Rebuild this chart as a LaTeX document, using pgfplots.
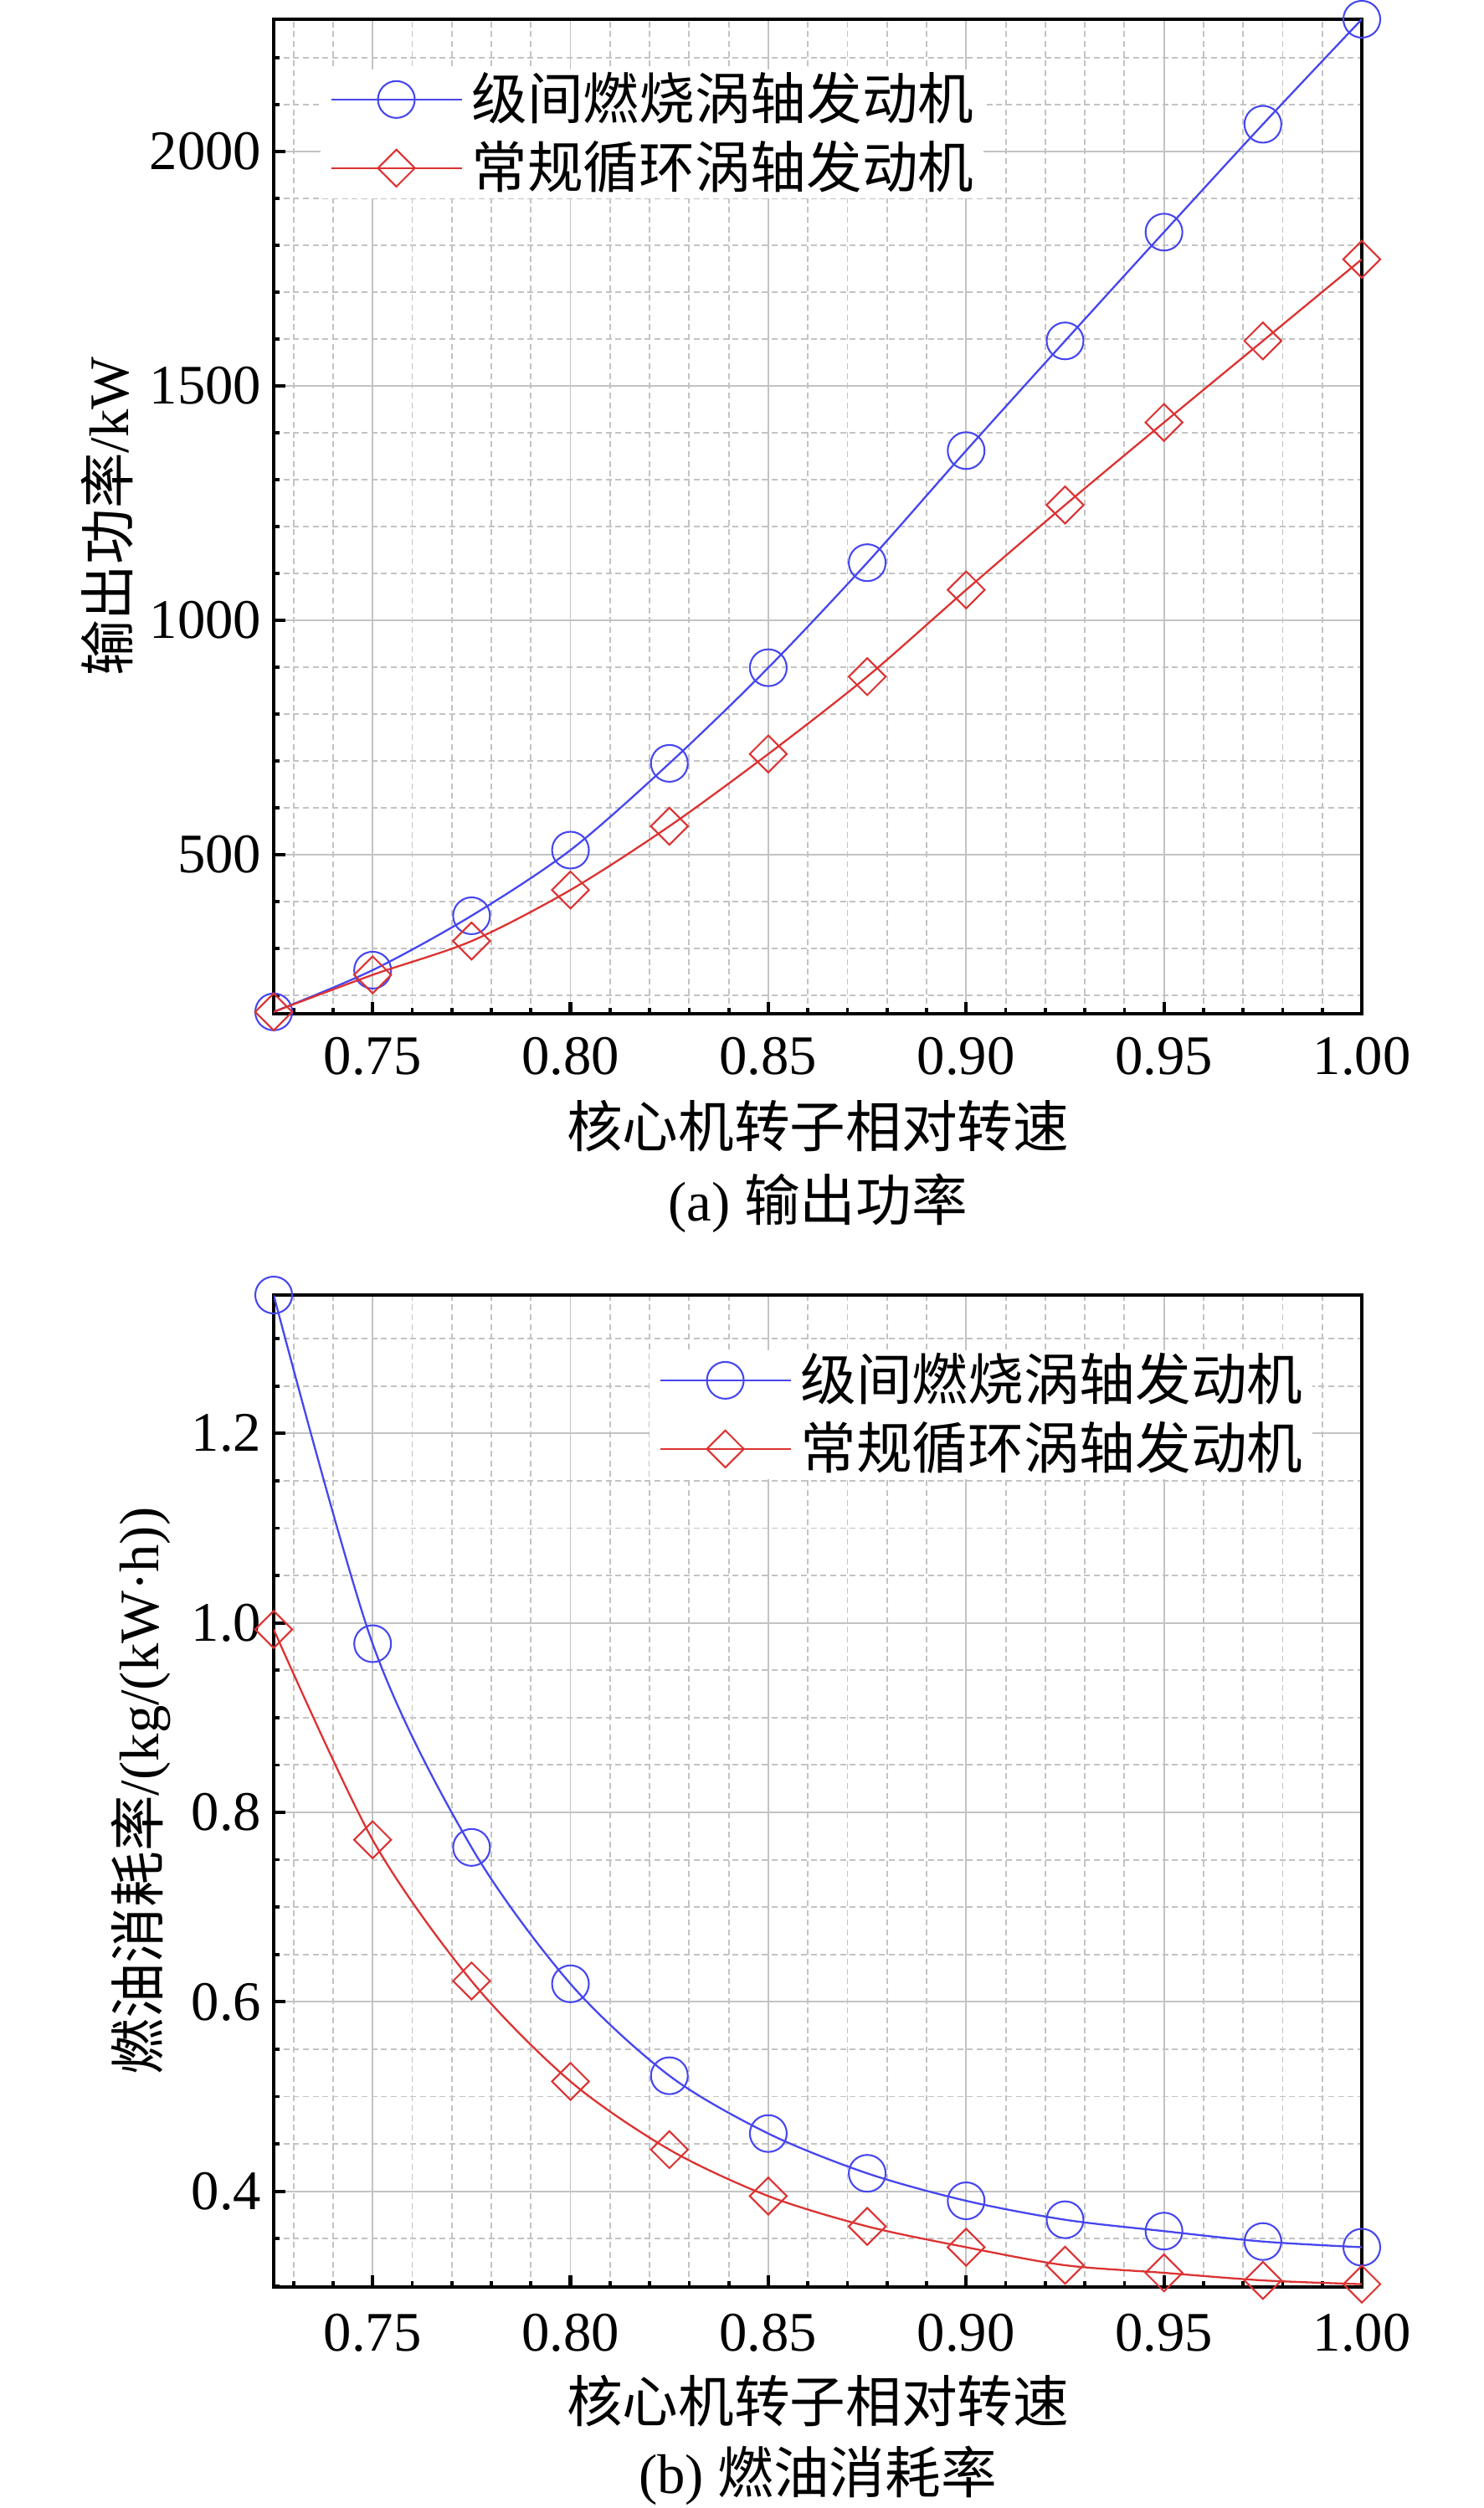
\documentclass[border=0pt]{standalone}
\usepackage{fontspec}
\setmainfont{Liberation Serif}
\newfontfamily\cjk{Noto Sans CJK SC}
\usepackage{pgfplots}
\pgfplotsset{compat=1.18}
\definecolor{blueL}{RGB}{70,70,240}
\definecolor{redL}{RGB}{220,50,50}
\definecolor{gridC}{RGB}{195,195,195}
\pgfplotsset{
  common/.style={
    scale only axis,
    width=312pt,
    xmin=0.725, xmax=1.0,
    xtick={0.75,0.80,0.85,0.90,0.95,1.00},
    minor xtick={0.73,0.74,0.76,0.77,0.78,0.79,0.81,0.82,0.83,0.84,0.86,0.87,0.88,0.89,0.91,0.92,0.93,0.94,0.96,0.97,0.98,0.99},
    xticklabel style={/pgf/number format/fixed, /pgf/number format/fixed zerofill, /pgf/number format/precision=2},
    /pgf/number format/assume math mode=true,
    /pgf/number format/set thousands separator={},
    tick label style={font=\fontsize{16}{19.2}\selectfont},
    label style={font=\fontsize{16}{19.2}\selectfont},
    tick align=inside,
    xtick pos=bottom, ytick pos=left,
    major tick length=3.4pt, minor tick length=1.7pt,
    major tick style={black, line width=1pt},
    minor tick style={black, line width=0.9pt},
    axis line style={line width=1pt},
    grid=both,
    major grid style={solid, gridC, line width=0.45pt},
    minor grid style={gridC, line width=0.45pt, dash pattern=on 1.7pt off 1.1pt},
    clip mode=individual,
    legend image code/.code={\draw[mark repeat=2,mark phase=2,##1] plot coordinates {(0pt,0pt)(18.7pt,0pt)(37.4pt,0pt)};},
    legend cell align=left,
    legend style={draw=none, fill=white, font=\fontsize{16}{19.2}\selectfont,
      inner xsep=2.8pt, inner ysep=1pt, row sep=4.4pt, column sep=2.6pt,
      nodes={inner sep=0pt, text height=13.26pt, text depth=2.02pt}},
  },
  bl/.style={blueL, line width=0.55pt, smooth, mark=o, mark size=5.28pt, mark options={solid, line width=0.5pt}},
  rd/.style={redL, line width=0.55pt, smooth, mark=square, mark size=3.75pt, mark options={solid, rotate=45, line width=0.5pt}},
}
\begin{document}
\begin{tikzpicture}
\path[use as bounding box] (0,0) rectangle (425.28pt,-719.04pt);
\begin{axis}[common, name=top,
  at={(78.48pt,-5.52pt)}, anchor=north west,
  height=285.12pt,
  ymin=161, ymax=2282,
  ytick={500,1000,1500,2000},
  minor ytick={200,300,400,600,700,800,900,1100,1200,1300,1400,1600,1700,1800,1900,2100,2200},
  xticklabel style={anchor=center, yshift=-12.24pt},
  xlabel={\cjk 核心机转子相对转速},
  xlabel style={at={(axis description cs:0.5,-0.1128)}, anchor=center},
  ylabel={{\cjk 输出功率}/kW},
  ylabel style={at={(axis description cs:-0.1531,0.5)}, anchor=center},
  legend style={at={(axis description cs:0.0423,0.9503)}, anchor=north west},
]
\addplot[bl] coordinates {(0.725,165)(0.75,254)(0.775,370)(0.80,510)(0.825,695)(0.85,899)(0.875,1123)(0.90,1362)(0.925,1596)(0.95,1828)(0.975,2058)(1.00,2282)};
\addlegendentry{\cjk 级间燃烧涡轴发动机}
\addplot[rd] coordinates {(0.725,165)(0.75,244)(0.775,316)(0.80,425)(0.825,561)(0.85,715)(0.875,880)(0.90,1065)(0.925,1246)(0.95,1422)(0.975,1596)(1.00,1770)};
\addlegendentry{\cjk 常规循环涡轴发动机}
\end{axis}
\node[font=\fontsize{16}{19.2}\selectfont] at ([yshift=-54.24pt]top.south) {(a) {\cjk 输出功率}};
\begin{axis}[common, name=bot,
  at={(78.48pt,-371.28pt)}, anchor=north west,
  height=284.4pt,
  ymin=0.299, ymax=1.346,
  ytick={0.4,0.6,0.8,1.0,1.2},
  minor ytick={0.3,0.35,0.45,0.5,0.55,0.65,0.7,0.75,0.85,0.9,0.95,1.05,1.1,1.15,1.25,1.3},
  yticklabel style={/pgf/number format/fixed, /pgf/number format/fixed zerofill, /pgf/number format/precision=1},
  xticklabel style={anchor=center, yshift=-13.2pt},
  xlabel={\cjk 核心机转子相对转速},
  xlabel style={at={(axis description cs:0.5,-0.1148)}, anchor=center},
  ylabel={{\cjk 燃油消耗率}/(kg/(kW·h))},
  ylabel style={at={(axis description cs:-0.122,0.5)}, anchor=center},
  legend style={at={(axis description cs:0.3446,0.9451)}, anchor=north west},
]
\addplot[bl] coordinates {(0.725,1.346)(0.75,0.978)(0.775,0.763)(0.80,0.619)(0.825,0.522)(0.85,0.461)(0.875,0.419)(0.90,0.390)(0.925,0.370)(0.95,0.358)(0.975,0.347)(1.00,0.341)};
\addlegendentry{\cjk 级间燃烧涡轴发动机}
\addplot[rd] coordinates {(0.725,0.993)(0.75,0.771)(0.775,0.622)(0.80,0.516)(0.825,0.444)(0.85,0.395)(0.875,0.363)(0.90,0.341)(0.925,0.322)(0.95,0.314)(0.975,0.306)(1.00,0.302)};
\addlegendentry{\cjk 常规循环涡轴发动机}
\end{axis}
\node[font=\fontsize{16}{19.2}\selectfont] at ([yshift=-54pt]bot.south) {(b) {\cjk 燃油消耗率}};
\end{tikzpicture}
\end{document}
